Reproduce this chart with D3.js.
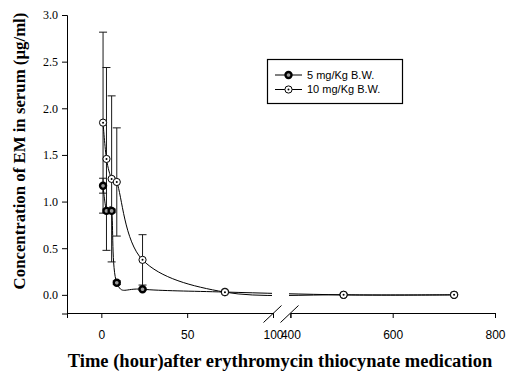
<!DOCTYPE html>
<html lang="en">
<head>
    <meta charset="UTF-8">
    <title>EM serum concentration</title>
    <script src="https://cdn.jsdelivr.net/npm/d3@7"></script>
    <style>
        body {
            margin: 0;
            background-color: white;
        }
        .axis path, .axis line {
            stroke: black;
        }
        .axis text {
            fill: black;
        }
        .ytick text {
            font-family: "Liberation Serif", "Times New Roman", serif;
            font-size: 12px;
        }
        .xtick text {
            font-family: "Liberation Sans", Arial, sans-serif;
            font-size: 12px;
        }
        .title {
            font-family: "Liberation Serif", "Times New Roman", serif;
            font-weight: bold;
        }
        .legend text {
            font-family: "Liberation Sans", Arial, sans-serif;
            font-size: 11px;
        }
    </style>
</head>
<body>

<svg id="svg" width="507" height="376"></svg>

<script>
    // data
    var hours = [1, 3, 6, 9, 24, 72, 504, 720];
    var dose5 = [1.17, 0.90, 0.90, 0.13, 0.06, 0.03, 0.0, 0.0];
    var dose5Sd = [0.08, 0.02, 0.02, 0.02, 0.01, 0, 0, 0];
    var dose10 = [1.846, 1.457, 1.243, 1.21, 0.375, 0.029, 0.0, 0.0];
    var dose10Sd = [0.97, 0.98, 0.89, 0.58, 0.27, 0, 0, 0];
    var yTicks = [0, 0.5, 1.0, 1.5, 2.0, 2.5, 3.0];
    var xTicksLeft = [0, 50, 100];
    var xTicksRight = [400, 600, 800];
    var legendLabels = ["5 mg/Kg B.W.", "10 mg/Kg B.W."];

    var svg = d3.select("#svg");

    var x1 = d3.scaleLinear().domain([-20, 100]).range([67, 273]);
    var x2 = d3.scaleLinear().domain([400, 800]).range([290.4, 495]);
    var y = d3.scaleLinear().domain([-0.2, 3]).range([313.5, 15]);

    // broken x axis: left part up to 100 h, right part from 400 h
    function xPos(t) {
        return t <= 100 ? x1(t) : x2(t);
    }

    function makeSeries(vals, sds) {
        return hours.map(function(t, i) {
            return {t: t, v: vals[i], sd: sds[i]};
        });
    }

    var series = [
        {name: legendLabels[0], kind: "filled", data: makeSeries(dose5, dose5Sd)},
        {name: legendLabels[1], kind: "open", data: makeSeries(dose10, dose10Sd)}
    ];

    // clip out the gap at the axis break
    var breakLeft = 272, breakRight = 289;
    var clip = svg.append("defs").append("clipPath").attr("id", "plotClip");
    clip.append("rect").attr("x", 60).attr("y", 0)
        .attr("width", breakLeft - 60).attr("height", 376);
    clip.append("rect").attr("x", breakRight).attr("y", 0)
        .attr("width", 507 - breakRight).attr("height", 376);

    // axes
    var yAxis = d3.axisLeft(y).tickValues(yTicks).tickFormat(d3.format(".1f"))
        .tickSizeOuter(0).tickSize(5).tickPadding(4);
    svg.append("g").attr("class", "axis ytick")
        .attr("transform", "translate(67,0)")
        .call(yAxis);

    var xAxis1 = d3.axisBottom(x1).tickValues(xTicksLeft).tickFormat(d3.format("d"))
        .tickSizeOuter(0).tickSize(5).tickPadding(12);
    svg.append("g").attr("class", "axis xtick")
        .attr("transform", "translate(0,313)")
        .call(xAxis1);

    var xAxis2 = d3.axisBottom(x2).tickValues(xTicksRight).tickFormat(d3.format("d"))
        .tickSizeOuter(0).tickSize(5).tickPadding(12);
    svg.append("g").attr("class", "axis xtick")
        .attr("transform", "translate(0,313)")
        .call(xAxis2);

    // break marks
    svg.append("g").selectAll("line")
        .data([breakLeft + 0.5, breakRight + 0.5])
        .enter().append("line")
        .attr("x1", function(d) { return d - 9; })
        .attr("y1", 322.5)
        .attr("x2", function(d) { return d + 9; })
        .attr("y2", 305.5)
        .attr("stroke", "black")
        .attr("stroke-width", 1);

    // error bars
    var gErr = svg.append("g");
    series.forEach(function(s) {
        var bars = s.data.filter(function(d) { return d.sd > 0; });
        var g = gErr.selectAll("g.err-" + s.kind)
            .data(bars).enter().append("g")
            .attr("class", "err-" + s.kind)
            .attr("stroke", "#1a1a1a")
            .attr("stroke-width", 1);
        g.append("line")
            .attr("x1", function(d) { return xPos(d.t); })
            .attr("x2", function(d) { return xPos(d.t); })
            .attr("y1", function(d) { return y(d.v - d.sd); })
            .attr("y2", function(d) { return y(d.v + d.sd); });
        [-1, 1].forEach(function(sign) {
            g.append("line")
                .attr("x1", function(d) { return xPos(d.t) - 4; })
                .attr("x2", function(d) { return xPos(d.t) + 4; })
                .attr("y1", function(d) { return y(d.v + sign * d.sd); })
                .attr("y2", function(d) { return y(d.v + sign * d.sd); });
        });
    });

    // smooth lines through the broken scale, gap clipped away
    var line = d3.line()
        .x(function(d) { return xPos(d.t); })
        .y(function(d) { return y(d.v); })
        .curve(d3.curveCardinal.tension(0));

    svg.append("g").attr("clip-path", "url(#plotClip)")
        .selectAll("path")
        .data(series)
        .enter().append("path")
        .attr("d", function(s) { return line(s.data); })
        .attr("fill", "none")
        .attr("stroke", "black")
        .attr("stroke-width", 1);

    function drawMarker(g, kind) {
        if (kind === "filled") {
            g.append("circle").attr("r", 3)
                .attr("fill", "#999")
                .attr("stroke", "black")
                .attr("stroke-width", 2.4);
        } else {
            g.append("circle").attr("r", 3.6)
                .attr("fill", "white")
                .attr("stroke", "black")
                .attr("stroke-width", 1);
            g.append("circle").attr("r", 1)
                .attr("fill", "black");
        }
    }

    // markers
    var gPts = svg.append("g");
    series.forEach(function(s) {
        var pts = gPts.selectAll("g.pt-" + s.kind)
            .data(s.data).enter().append("g")
            .attr("class", "pt-" + s.kind)
            .attr("transform", function(d) {
                return "translate(" + xPos(d.t) + "," + y(d.v) + ")";
            });
        drawMarker(pts, s.kind);
    });

    // legend
    var legend = svg.append("g").attr("class", "legend");
    legend.append("rect")
        .attr("x", 267.5).attr("y", 59.5)
        .attr("width", 135).attr("height", 44)
        .attr("fill", "white")
        .attr("stroke", "black")
        .attr("stroke-width", 1.2);
    series.forEach(function(s, i) {
        var ly = 75 + i * 14.5;
        legend.append("line")
            .attr("x1", 275).attr("x2", 302)
            .attr("y1", ly).attr("y2", ly)
            .attr("stroke", "black");
        var m = legend.append("g").attr("transform", "translate(288.5," + ly + ")");
        drawMarker(m, s.kind);
        legend.append("text")
            .attr("x", 307).attr("y", ly)
            .attr("dy", "0.35em")
            .text(s.name);
    });

    // axis titles
    svg.append("text")
        .attr("class", "title")
        .attr("x", 280).attr("y", 367)
        .attr("text-anchor", "middle")
        .style("font-size", "18.5px")
        .text("Time (hour)after erythromycin thiocynate medication");

    svg.append("text")
        .attr("class", "title")
        .attr("transform", "translate(25,151) rotate(-90)")
        .attr("text-anchor", "middle")
        .style("font-size", "16.8px")
        .text("Concentration of EM in serum (\u00b5g/ml)");
</script>
</body>
</html>
